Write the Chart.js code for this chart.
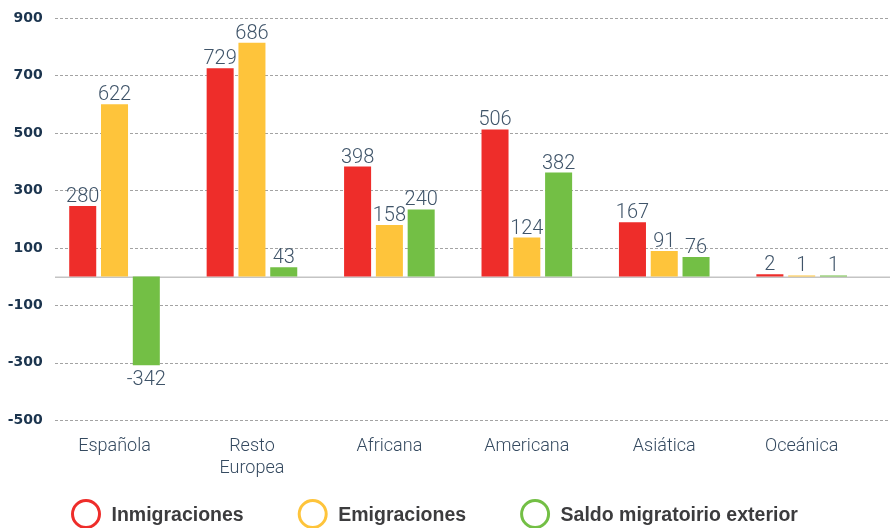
<!DOCTYPE html>
<html>
<head>
<meta charset="utf-8">
<script src="https://cdn.jsdelivr.net/npm/chart.js@4/dist/chart.umd.min.js"></script>
<style>
  html, body { margin: 0; padding: 0; background: #fff; overflow: hidden; }
  #wrap { width: 890px; height: 528px; }
</style>
</head>
<body>
<div id="wrap"><canvas id="barChart" width="890" height="528"></canvas></div>
<script>
// categories
var categorias = ['Española', ['Resto', 'Europea'], 'Africana', 'Americana', 'Asiática', 'Oceánica'];

// bar heights as drawn in the picture
var inmigraciones = [246, 725, 383, 512, 189, 8];
var emigraciones = [600, 814, 180, 136, 89, 4];
var saldo = [-308, 33, 234, 362, 68, 4];

// printed value labels
var inmigracionesTxt = ['280', '729', '398', '506', '167', '2'];
var emigracionesTxt = ['622', '686', '158', '124', '91', '1'];
var saldoTxt = ['-342', '43', '240', '382', '76', '1'];

var yTicks = [-500, -300, -100, 100, 300, 500, 700, 900];

var colores = {
	red: '#ee2d2a',
	yellow: '#fec43b',
	green: '#73bf45'
};

// dashed grid + zero line, drawn over the full width
var gridPlugin = {
	id: 'dashGrid',
	beforeDatasetsDraw: function(chart) {
		var ctx = chart.ctx, y = chart.scales.y;
		ctx.save();
		ctx.strokeStyle = '#a3a3a3';
		ctx.lineWidth = 1;
		ctx.setLineDash([3, 2]);
		yTicks.forEach(function(v) {
			var py = Math.round(y.getPixelForValue(v)) + 0.5;
			ctx.beginPath();
			ctx.moveTo(55, py);
			ctx.lineTo(890, py);
			ctx.stroke();
		});
		ctx.setLineDash([]);
		ctx.strokeStyle = '#c4c4c4';
		ctx.lineWidth = 1.6;
		var pz = y.getPixelForValue(0) + 0.6;
		ctx.beginPath();
		ctx.moveTo(55, pz);
		ctx.lineTo(890, pz);
		ctx.stroke();
		ctx.restore();
	}
};

// value labels above / below bars
var labelPlugin = {
	id: 'valueLabels',
	afterDatasetsDraw: function(chart) {
		var ctx = chart.ctx;
		var textos = [inmigracionesTxt, emigracionesTxt, saldoTxt];
		ctx.save();
		ctx.font = '300 20px Roboto, "Liberation Sans", sans-serif';
		ctx.fillStyle = '#3f5469';
		ctx.textAlign = 'center';
		ctx.textBaseline = 'alphabetic';
		chart.data.datasets.forEach(function(ds, i) {
			chart.getDatasetMeta(i).data.forEach(function(bar, j) {
				var v = ds.data[j];
				var ty = v >= 0 ? bar.y - 4 : bar.y + 20;
				ctx.fillText(textos[i][j], bar.x, ty);
			});
		});
		ctx.restore();
	}
};

// legend with hollow circles
var legendPlugin = {
	id: 'ringLegend',
	afterDraw: function(chart) {
		var ctx = chart.ctx;
		var cx = 86, cy = 514;
		ctx.save();
		ctx.font = 'bold 19.5px "Liberation Sans", Arial, sans-serif';
		ctx.textBaseline = 'alphabetic';
		ctx.textAlign = 'left';
		chart.data.datasets.forEach(function(ds) {
			ctx.beginPath();
			ctx.arc(cx, cy, 13.5, 0, Math.PI * 2);
			ctx.lineWidth = 3;
			ctx.strokeStyle = ds.backgroundColor;
			ctx.stroke();
			ctx.fillStyle = '#3c3c3e';
			var tx = cx + 25.5;
			ctx.fillText(ds.label, tx, 520.5);
			cx = tx + ctx.measureText(ds.label).width + 69;
		});
		ctx.restore();
	}
};

var ctx = document.getElementById('barChart').getContext('2d');
var myChart = new Chart(ctx, {
	type: 'bar',
	data: {
		labels: categorias,
		datasets: [{
			label: 'Inmigraciones',
			backgroundColor: colores.red,
			data: inmigraciones
		}, {
			label: 'Emigraciones',
			backgroundColor: colores.yellow,
			data: emigraciones
		}, {
			label: 'Saldo migratoirio exterior',
			backgroundColor: colores.green,
			data: saldo
		}]
	},
	options: {
		responsive: false,
		devicePixelRatio: 1,
		animation: false,
		layout: {
			padding: { top: 18, right: 19.6, bottom: 46, left: 0 }
		},
		datasets: {
			bar: {
				categoryPercentage: 0.694,
				barPercentage: 0.85,
				borderWidth: 0
			}
		},
		plugins: {
			legend: { display: false },
			tooltip: { enabled: false }
		},
		scales: {
			x: {
				grid: { display: false, drawTicks: false },
				border: { display: false },
				ticks: {
					padding: 15,
					color: '#354a60',
					font: { family: 'Roboto, "Liberation Sans", sans-serif', size: 18, weight: 300, lineHeight: 1.22 },
					maxRotation: 0,
					autoSkip: false
				},
				afterFit: function(scale) { scale.height = 61.7; }
			},
			y: {
				min: -500,
				max: 900,
				grid: { display: false, drawTicks: false },
				border: { display: false },
				ticks: {
					stepSize: 200,
					padding: 3,
					color: '#1b344e',
					font: { family: '"DejaVu Sans", sans-serif', size: 14, weight: 'bold' }
				},
				afterFit: function(scale) { scale.width = 45.8; }
			}
		}
	},
	plugins: [gridPlugin, labelPlugin, legendPlugin]
});
</script>
</body>
</html>
